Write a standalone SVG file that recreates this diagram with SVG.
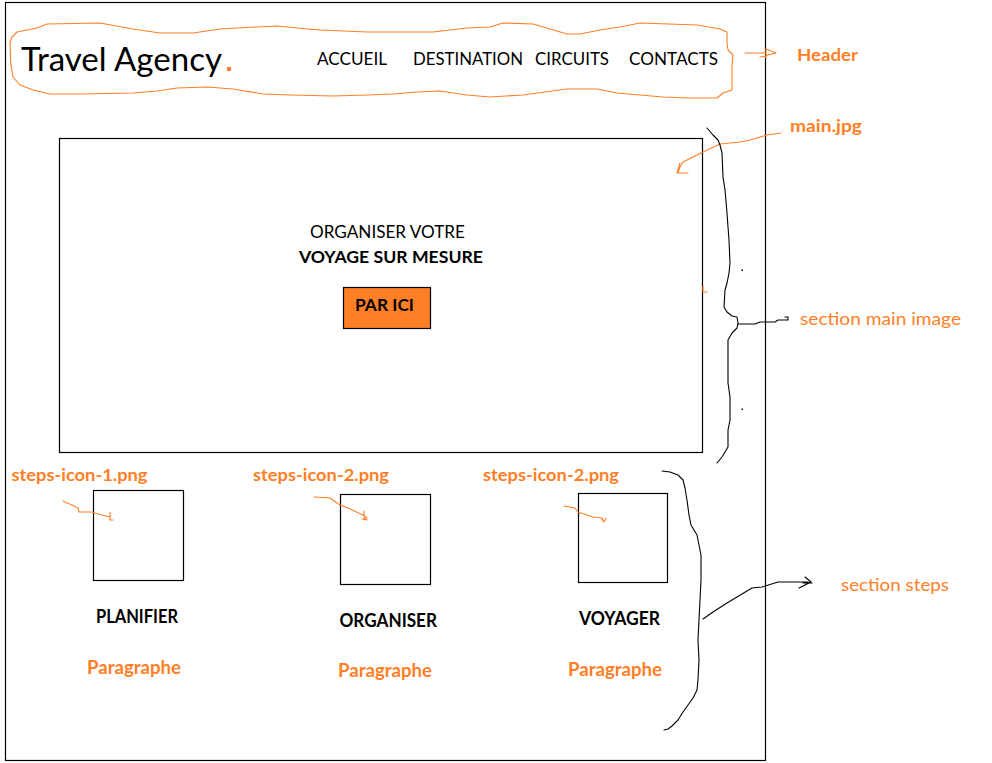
<svg xmlns="http://www.w3.org/2000/svg" width="992" height="763" viewBox="0 0 992 763">
<style>
.frame{fill:none;stroke:#000;stroke-width:1.2}
.box{fill:none;stroke:#000;stroke-width:1.2}
.ink{fill:none;stroke:#000;stroke-width:1.1;stroke-linejoin:round;stroke-linecap:round}
.oink{fill:none;stroke:#FF7F27;stroke-width:1.1;stroke-linejoin:round;stroke-linecap:round}
text{font-family:Lato,"Open Sans","Liberation Sans",sans-serif}
.t{fill:#000}
.b{font-weight:bold}
.o{fill:#FF7F27}
</style>
<rect width="992" height="763" fill="#fff"/>
<g id="page">
<rect class="frame" x="5.5" y="2.5" width="760" height="758"/>
</g>
<g id="header">
<path class="oink" d="M12,37 L17,32 L37,28 L47,24 L100,23 L133,29 L160,33 L193,33 L220,29 L257,27 L277,26 L297,28 L320,30 L367,32 L433,32 L467,28 L490,27 L503,23 L533,24 L567,34 L580,34 L600,30 L620,27 L640,23 L697,25 L720,29 L727,32 L727,43 L728,50 L733,55 L732,67 L732,90 L723,93 L717,98 L690,98 L663,97 L617,93 L597,89 L567,89 L523,95 L490,97 L467,95 L440,91 L417,92 L393,94 L367,95 L333,96 L290,95 L263,94 L233,89 L207,87 L177,88 L157,91 L133,93 L80,94 L50,94 L33,90 L20,85 L13,77 L10.7,63 L10,43 Z"/>
<text class="t" x="21" y="71" font-size="33" textLength="201" lengthAdjust="spacingAndGlyphs">Travel Agency</text>
<rect x="227" y="67" width="4" height="4" fill="#FF7F27"/>
<text class="t" x="317" y="65" font-size="17" textLength="70" lengthAdjust="spacingAndGlyphs">ACCUEIL</text>
<text class="t" x="413" y="65" font-size="17" textLength="110" lengthAdjust="spacingAndGlyphs">DESTINATION</text>
<text class="t" x="535" y="65" font-size="17" textLength="74" lengthAdjust="spacingAndGlyphs">CIRCUITS</text>
<text class="t" x="629" y="65" font-size="17" textLength="89" lengthAdjust="spacingAndGlyphs">CONTACTS</text>
</g>
<g id="main-image">
<rect class="box" x="59.5" y="138.5" width="643" height="314"/>
<text class="t" x="310" y="238" font-size="16.5" textLength="155" lengthAdjust="spacingAndGlyphs">ORGANISER VOTRE</text>
<text class="t b" x="299" y="262.5" font-size="17.5" textLength="184" lengthAdjust="spacingAndGlyphs">VOYAGE SUR MESURE</text>
<rect x="343.5" y="287.5" width="87" height="41" fill="#FF7F27" stroke="#000" stroke-width="1.2"/>
<text class="t b" x="355" y="310.5" font-size="17.5" textLength="59" lengthAdjust="spacingAndGlyphs">PAR ICI</text>
</g>
<g id="step-1">
<text class="o b" x="11.5" y="481" font-size="17" textLength="136" lengthAdjust="spacingAndGlyphs">steps-icon-1.png</text>
<rect class="box" x="93.5" y="490.5" width="90" height="90"/>
<text class="t b" x="96" y="623" font-size="18" textLength="82" lengthAdjust="spacingAndGlyphs">PLANIFIER</text>
<text class="o b" x="87" y="674" font-size="18" textLength="94" lengthAdjust="spacingAndGlyphs">Paragraphe</text>
</g>
<g id="step-2">
<text class="o b" x="253" y="481" font-size="17" textLength="136" lengthAdjust="spacingAndGlyphs">steps-icon-2.png</text>
<rect class="box" x="340.5" y="494.5" width="90" height="90"/>
<text class="t b" x="339.5" y="627" font-size="18" textLength="97.5" lengthAdjust="spacingAndGlyphs">ORGANISER</text>
<text class="o b" x="338" y="676.5" font-size="18" textLength="94" lengthAdjust="spacingAndGlyphs">Paragraphe</text>
</g>
<g id="step-3">
<text class="o b" x="483" y="481" font-size="17" textLength="136" lengthAdjust="spacingAndGlyphs">steps-icon-2.png</text>
<rect class="box" x="578.5" y="493.5" width="89" height="89"/>
<text class="t b" x="579" y="624.5" font-size="18" textLength="81" lengthAdjust="spacingAndGlyphs">VOYAGER</text>
<text class="o b" x="568" y="675.5" font-size="18" textLength="94" lengthAdjust="spacingAndGlyphs">Paragraphe</text>
</g>
<g id="labels">
<text class="o b" x="797" y="61" font-size="17.5" textLength="61" lengthAdjust="spacingAndGlyphs">Header</text>
<text class="o b" x="790" y="132" font-size="17.5" textLength="72" lengthAdjust="spacingAndGlyphs">main.jpg</text>
<text class="o" x="800" y="324.5" font-size="17.5" textLength="161" lengthAdjust="spacingAndGlyphs">section main image</text>
<text class="o" x="841" y="590.5" font-size="17.5" textLength="108" lengthAdjust="spacingAndGlyphs">section steps</text>
</g>
<g id="connectors">
<path class="oink" d="M745,53 H766 M766,49 V58 M766,49 L776,53 L760,57"/>
<path class="oink" d="M781,133 L767,135 L750,140 L740,142 L720,144 L703,152 L693,157 L683,162 L680,167 L678,172 M680,163 L677,173 L688,173"/>
<path class="oink" d="M703,286 V292 H707"/>
<path class="ink" d="M707,128 L713,135 L718,140 L720,145 L722,153 L723,177 L725,190 L727,213 L728,227 L729,240 L730,263 L729,273 L727,283 L725,290 L724,307 L727,312 L732,316 L737,317 L738,323 L737,328 L732,333 L728,340 L728,353 L728,383 L730,397 L730,420 L728,430 L728,447 L725,452 L722,457 L717,463"/>
<path class="ink" d="M738,324 L755,324 L760,322 L775,322 L778,320 L788,320 L788,317 L785,317"/>
<rect x="741.5" y="269.5" width="1.5" height="1.5" fill="#000"/>
<rect x="741.5" y="408.5" width="1.5" height="1.5" fill="#000"/>
<path class="ink" d="M662,471 L670,472 L678,475 L683,480 L685,488 L687,500 L689,515 L691,525 L694,530 L697,535 L699,545 L701,555 L701,580 L700,600 L699,620 L698,640 L699,660 L698,680 L697,690 L693,698 L688,705 L683,712 L678,720 L672,726 L668,729 L664,730"/>
<path class="ink" d="M703,619 L713,612 L727,603 L737,597 L752,588 L762,587 L778,582 L807,582 L812,583 M805,577 L811,582 L799,588 M803,583 L812,583"/>
<path class="oink" d="M63,501 L67,503 L72,505 L78,508 L79,512 L92,512 L98,514 L110,517 M110,512 V520 H113"/>
<path class="oink" d="M314,497 L330,498 L340,505 L348,508 L363,515 L367,518 M364,511 V518 L367,520 L362,519"/>
<path class="oink" d="M564,506 L575,508 L578,512 L587,515 L593,517 L602,518 L604,522 M601,518 L604,522 L606,518"/>
</g>
</svg>
